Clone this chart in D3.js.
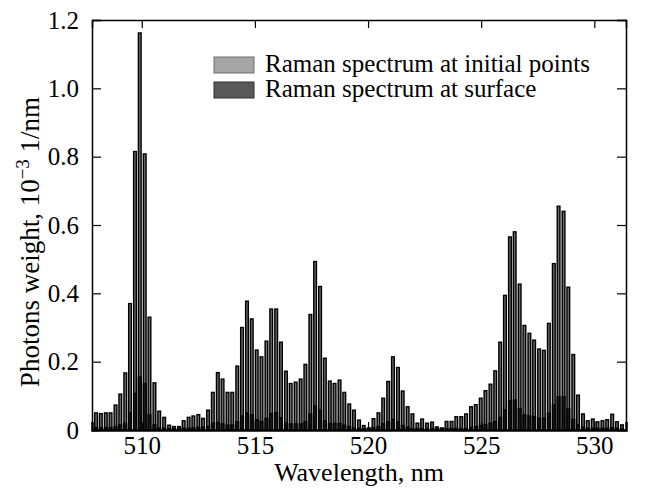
<!DOCTYPE html>
<html>
<head>
<meta charset="utf-8">
<script src="https://cdnjs.cloudflare.com/ajax/libs/d3/7.8.5/d3.min.js"></script>
<style>
  body { margin: 0; background: #ffffff; }
  svg text { font-family: "Liberation Serif", "Times New Roman", serif; fill: #000; }
</style>
</head>
<body>
<div id="chart"></div>
<script>
// Bin centres (nm)
const wavelengths = [
  507.98, 508.19, 508.41, 508.62, 508.84, 509.05, 509.27, 509.48, 509.70, 509.91,
  510.13, 510.34, 510.56, 510.77, 510.99, 511.21, 511.42, 511.64, 511.85, 512.07,
  512.28, 512.50, 512.71, 512.93, 513.14, 513.36, 513.57, 513.79, 514.00, 514.22,
  514.43, 514.65, 514.86, 515.08, 515.29, 515.51, 515.72, 515.94, 516.15, 516.37,
  516.58, 516.80, 517.02, 517.23, 517.45, 517.66, 517.88, 518.09, 518.31, 518.52,
  518.74, 518.95, 519.17, 519.38, 519.60, 519.81, 520.03, 520.24, 520.46, 520.67,
  520.89, 521.10, 521.32, 521.53, 521.75, 521.96, 522.18, 522.39, 522.61, 522.83,
  523.04, 523.26, 523.47, 523.69, 523.90, 524.12, 524.33, 524.55, 524.76, 524.98,
  525.19, 525.41, 525.62, 525.84, 526.05, 526.27, 526.48, 526.70, 526.91, 527.13,
  527.34, 527.56, 527.77, 527.99, 528.21, 528.42, 528.64, 528.85, 529.07, 529.28,
  529.50, 529.71, 529.93, 530.14, 530.36, 530.57, 530.79, 531.00, 531.22
];

// Raman spectrum at initial points (10^-3 1/nm)
const initialPoints = [
  0.050, 0.048, 0.050, 0.050, 0.073, 0.105, 0.167, 0.370, 0.815, 1.162,
  0.808, 0.330, 0.138, 0.055, 0.037, 0.014, 0.010, 0.010, 0.027, 0.037,
  0.041, 0.045, 0.034, 0.058, 0.110, 0.168, 0.149, 0.110, 0.110, 0.187,
  0.300, 0.377, 0.325, 0.234, 0.214, 0.260, 0.354, 0.354, 0.257, 0.172,
  0.136, 0.140, 0.149, 0.192, 0.338, 0.493, 0.420, 0.210, 0.143, 0.136,
  0.146, 0.110, 0.076, 0.058, 0.029, 0.013, 0.006, 0.033, 0.050, 0.093,
  0.142, 0.214, 0.183, 0.114, 0.068, 0.047, 0.020, 0.032, 0.020, 0.023,
  0.009, 0.006, 0.025, 0.025, 0.039, 0.039, 0.047, 0.068, 0.074, 0.093,
  0.115, 0.134, 0.173, 0.257, 0.394, 0.565, 0.580, 0.427, 0.306, 0.283,
  0.263, 0.237, 0.233, 0.312, 0.487, 0.655, 0.640, 0.418, 0.221, 0.102,
  0.047, 0.027, 0.032, 0.024, 0.027, 0.030, 0.046, 0.024, 0.015
];

// Raman spectrum at surface (10^-3 1/nm)
const surface = [
  0.007, 0.007, 0.007, 0.007, 0.010, 0.015, 0.020, 0.050, 0.107, 0.155,
  0.136, 0.044, 0.015, 0.005, 0.005, 0.004, 0.004, 0.004, 0.005, 0.005,
  0.006, 0.008, 0.008, 0.010, 0.020, 0.022, 0.018, 0.014, 0.015, 0.024,
  0.041, 0.050, 0.045, 0.030, 0.025, 0.034, 0.048, 0.050, 0.036, 0.021,
  0.018, 0.018, 0.018, 0.024, 0.047, 0.070, 0.058, 0.027, 0.019, 0.019,
  0.019, 0.014, 0.010, 0.005, 0.005, 0.004, 0.004, 0.007, 0.010, 0.018,
  0.024, 0.031, 0.024, 0.013, 0.008, 0.004, 0.004, 0.004, 0.004, 0.004,
  0.004, 0.004, 0.004, 0.004, 0.004, 0.004, 0.004, 0.007, 0.010, 0.013,
  0.016, 0.020, 0.024, 0.037, 0.058, 0.086, 0.088, 0.062, 0.044, 0.042,
  0.039, 0.034, 0.034, 0.049, 0.073, 0.097, 0.097, 0.061, 0.031, 0.015,
  0.008, 0.005, 0.005, 0.005, 0.005, 0.005, 0.007, 0.005, 0.004
];

const xTicks = [510, 515, 520, 525, 530];
const yTicks = [0, 0.2, 0.4, 0.6, 0.8, 1.0, 1.2];
const seriesNames = ['Raman spectrum at initial points', 'Raman spectrum at surface'];

// Dimensions
const W = 645, H = 495;
const margin = { top: 20, right: 19, bottom: 65, left: 92 };
const width = W - margin.left - margin.right;
const height = H - margin.top - margin.bottom;

const svg = d3.select('#chart')
  .append('svg')
  .attr('width', W)
  .attr('height', H);

const g = svg.append('g')
  .attr('transform', `translate(${margin.left},${margin.top})`);

// Scales
const x = d3.scaleLinear()
  .domain([507.8, 531.4])
  .range([0, width]);

const y = d3.scaleLinear()
  .domain([0, 1.2])
  .range([height, 0]);

// narrow bars: thick black edge, thin light core
const barW = 2.7;

const rows = wavelengths.map((w, i) => ({ w, a: initialPoints[i], b: surface[i] }));

// Initial points bars
g.selectAll('.bar-initial')
  .data(rows)
  .enter()
  .append('rect')
  .attr('class', 'bar-initial')
  .attr('x', d => x(d.w) - barW / 2)
  .attr('y', d => y(d.a))
  .attr('width', barW)
  .attr('height', d => y(0) - y(d.a))
  .attr('fill', '#6c6c6c')
  .attr('stroke', '#000')
  .attr('stroke-width', 1.4);

// Surface bars on top
g.selectAll('.bar-surface')
  .data(rows)
  .enter()
  .append('rect')
  .attr('class', 'bar-surface')
  .attr('x', d => x(d.w) - barW / 2)
  .attr('y', d => y(d.b))
  .attr('width', barW)
  .attr('height', d => y(0) - y(d.b))
  .attr('fill', '#1a1a1a')
  .attr('stroke', '#000')
  .attr('stroke-width', 1.4);

// Axes (ticks pointing inward, box frame)
const bottomAxis = g.append('g')
  .attr('transform', `translate(0,${height})`)
  .call(d3.axisBottom(x).tickValues(xTicks).tickSize(-8).tickPadding(6).tickFormat(d3.format('d')));

const topAxis = g.append('g')
  .call(d3.axisTop(x).tickValues(xTicks).tickSize(-8).tickFormat(''));

const leftAxis = g.append('g')
  .call(d3.axisLeft(y).tickValues(yTicks).tickSize(-9).tickPadding(13)
    .tickFormat(d => d === 0 ? '0' : d3.format('.1f')(d)));

const rightAxis = g.append('g')
  .attr('transform', `translate(${width},0)`)
  .call(d3.axisRight(y).tickValues(yTicks).tickSize(-9).tickFormat(''));

[bottomAxis, topAxis, leftAxis, rightAxis].forEach(a => {
  a.select('.domain').attr('stroke', '#000').attr('stroke-width', 1.5);
  a.selectAll('.tick line').attr('stroke', '#000').attr('stroke-width', 1.2);
  a.selectAll('.tick text')
    .attr('font-family', '"Liberation Serif", "Times New Roman", serif')
    .attr('font-size', 25);
});
bottomAxis.select('.domain').attr('stroke-width', 2.5);

// Axis titles
svg.append('text')
  .attr('x', margin.left + width / 2)
  .attr('y', 481)
  .attr('text-anchor', 'middle')
  .attr('font-size', 26)
  .text('Wavelength, nm');

const yTitle = svg.append('text')
  .attr('transform', `translate(39,242) rotate(-90)`)
  .attr('text-anchor', 'middle')
  .attr('font-size', 27);
yTitle.append('tspan').text('Photons weight, 10');
yTitle.append('tspan').attr('dy', -10).attr('font-size', 19).text('\u22123');
yTitle.append('tspan').attr('dy', 10).text(' 1/nm');

// Legend
const legend = svg.append('g')
  .attr('transform', 'translate(214,57)');

const legendFill = [
  { fill: '#a6a6a6', stroke: '#6e6e6e' },
  { fill: '#595959', stroke: '#2e2e2e' }
];

seriesNames.forEach((name, i) => {
  const row = legend.append('g').attr('transform', `translate(0,${i * 25})`);
  row.append('rect')
    .attr('width', 40)
    .attr('height', 16)
    .attr('fill', legendFill[i].fill)
    .attr('stroke', legendFill[i].stroke)
    .attr('stroke-width', 1);
  row.append('text')
    .attr('x', 51)
    .attr('y', 15)
    .attr('font-size', 25)
    .text(name);
});
</script>
</body>
</html>
